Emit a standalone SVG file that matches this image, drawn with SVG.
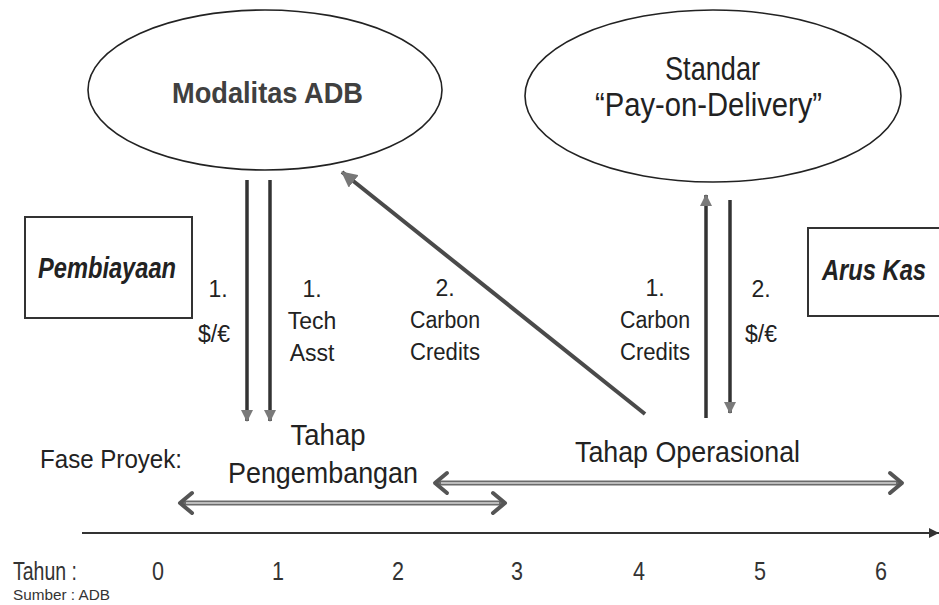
<svg xmlns="http://www.w3.org/2000/svg" width="939" height="605" viewBox="0 0 939 605">
<defs>
<style>
text{font-family:"Liberation Sans",Arial,sans-serif;fill:#222}
.node{fill:#fff;stroke:#222;stroke-width:1.6}
.box{fill:#fff;stroke:#333;stroke-width:2}
.big{font-size:34px}
.lbl{font-size:23px;text-anchor:middle}
.bi{font-size:30px;font-weight:bold;font-style:italic}
.yr{font-size:26px;text-anchor:middle;fill:#333}
.arr{stroke:#333;stroke-width:3.5;fill:none}
.diag{stroke:#4a4a4a;stroke-width:4;fill:none}
.shaft{stroke:#6a6a6a;stroke-width:5;fill:none}
.shaftin{stroke:#d8d8d8;stroke-width:1.5;fill:none}
.chev{stroke:#555;stroke-width:4;fill:none;stroke-linecap:round;stroke-linejoin:round}
</style>
<marker id="tri" viewBox="0 0 12 12" refX="11" refY="6" markerWidth="12" markerHeight="12" markerUnits="userSpaceOnUse" orient="auto">
<path d="M0,0 L12,6 L0,12 Z" fill="#7a7a7a"/>
</marker>
<marker id="tri2" viewBox="0 0 16 16" refX="15" refY="8" markerWidth="16" markerHeight="16" markerUnits="userSpaceOnUse" orient="auto">
<path d="M0,0 L16,8 L0,16 Z" fill="#777"/>
</marker>
<marker id="axh" viewBox="0 0 10 10" refX="10" refY="5" markerWidth="10" markerHeight="10" markerUnits="userSpaceOnUse" orient="auto">
<path d="M0,0 L10,5 L0,10 Z" fill="#333"/>
</marker>
</defs>
<rect width="939" height="605" fill="#fff"/>

<g id="modalitas-adb">
<ellipse class="node" cx="265" cy="90" rx="177" ry="80"/>
<text x="172" y="103" font-size="30" font-weight="bold" style="fill:#404040" textLength="191" lengthAdjust="spacingAndGlyphs">Modalitas ADB</text>
</g>

<g id="pay-on-delivery">
<ellipse class="node" cx="713" cy="96" rx="188" ry="86"/>
<text x="665" y="80" class="big" textLength="95" lengthAdjust="spacingAndGlyphs">Standar</text>
<text x="595" y="116" class="big" textLength="227" lengthAdjust="spacingAndGlyphs">“Pay-on-Delivery”</text>
</g>

<g id="pembiayaan">
<rect class="box" x="25" y="217" width="167" height="101"/>
<text x="38" y="278" class="bi" textLength="138" lengthAdjust="spacingAndGlyphs">Pembiayaan</text>
</g>

<g id="arus-kas">
<rect class="box" x="808" y="228" width="140" height="88"/>
<text x="822" y="280" class="bi" textLength="104" lengthAdjust="spacingAndGlyphs">Arus Kas</text>
</g>

<g id="connectors">
<line class="arr" x1="247" y1="180" x2="247" y2="421" marker-end="url(#tri)"/>
<line class="arr" x1="270" y1="180" x2="270" y2="421" marker-end="url(#tri)"/>
<line class="arr" x1="706" y1="418" x2="706" y2="195" marker-end="url(#tri)"/>
<line class="arr" x1="730" y1="200" x2="730" y2="413" marker-end="url(#tri)"/>
<line class="diag" x1="645" y1="414" x2="342" y2="172" marker-end="url(#tri2)"/>
</g>

<g id="labels">
<text x="218" y="297" class="lbl">1.</text>
<text x="214" y="342" class="lbl">$/€</text>
<text x="312" y="297" class="lbl">1.</text>
<text x="312" y="329" class="lbl">Tech</text>
<text x="312" y="361" class="lbl">Asst</text>
<text x="445" y="296" class="lbl">2.</text>
<text x="445" y="328" class="lbl" textLength="70" lengthAdjust="spacingAndGlyphs">Carbon</text>
<text x="445" y="360" class="lbl" textLength="70" lengthAdjust="spacingAndGlyphs">Credits</text>
<text x="655" y="296" class="lbl">1.</text>
<text x="655" y="328" class="lbl" textLength="70" lengthAdjust="spacingAndGlyphs">Carbon</text>
<text x="655" y="360" class="lbl" textLength="70" lengthAdjust="spacingAndGlyphs">Credits</text>
<text x="761" y="297" class="lbl">2.</text>
<text x="761" y="342" class="lbl">$/€</text>
</g>

<g id="fase-proyek">
<text x="40" y="468" font-size="26" textLength="142" lengthAdjust="spacingAndGlyphs">Fase Proyek:</text>
</g>

<g id="tahap-pengembangan">
<text x="328" y="445" font-size="30" text-anchor="middle" textLength="75" lengthAdjust="spacingAndGlyphs">Tahap</text>
<text x="228" y="483" font-size="30" textLength="190" lengthAdjust="spacingAndGlyphs">Pengembangan</text>
<line class="shaft" x1="182" y1="503" x2="503" y2="503"/>
<line class="shaftin" x1="186" y1="503" x2="499" y2="503"/>
<polyline class="chev" points="192,493 180,503 192,513"/>
<polyline class="chev" points="493,493 505,503 493,513"/>
</g>

<g id="tahap-operasional">
<text x="575" y="462" font-size="30" textLength="225" lengthAdjust="spacingAndGlyphs">Tahap Operasional</text>
<line class="shaft" x1="437" y1="483" x2="900" y2="483"/>
<line class="shaftin" x1="441" y1="483" x2="896" y2="483"/>
<polyline class="chev" points="447,473 435,483 447,493"/>
<polyline class="chev" points="890,473 902,483 890,493"/>
</g>

<g id="timeline">
<line x1="82" y1="533" x2="939" y2="533" stroke="#333" stroke-width="2" marker-end="url(#axh)"/>
<text x="13" y="580" font-size="25" style="fill:#333" textLength="64" lengthAdjust="spacingAndGlyphs">Tahun :</text>
<text x="158" y="580" class="yr" textLength="12" lengthAdjust="spacingAndGlyphs">0</text>
<text x="278" y="580" class="yr" textLength="12" lengthAdjust="spacingAndGlyphs">1</text>
<text x="398" y="580" class="yr" textLength="12" lengthAdjust="spacingAndGlyphs">2</text>
<text x="517" y="580" class="yr" textLength="12" lengthAdjust="spacingAndGlyphs">3</text>
<text x="639" y="580" class="yr" textLength="12" lengthAdjust="spacingAndGlyphs">4</text>
<text x="760" y="580" class="yr" textLength="12" lengthAdjust="spacingAndGlyphs">5</text>
<text x="881" y="580" class="yr" textLength="12" lengthAdjust="spacingAndGlyphs">6</text>
<text x="13" y="600" font-size="15" style="fill:#333" textLength="97" lengthAdjust="spacingAndGlyphs">Sumber : ADB</text>
</g>
</svg>
